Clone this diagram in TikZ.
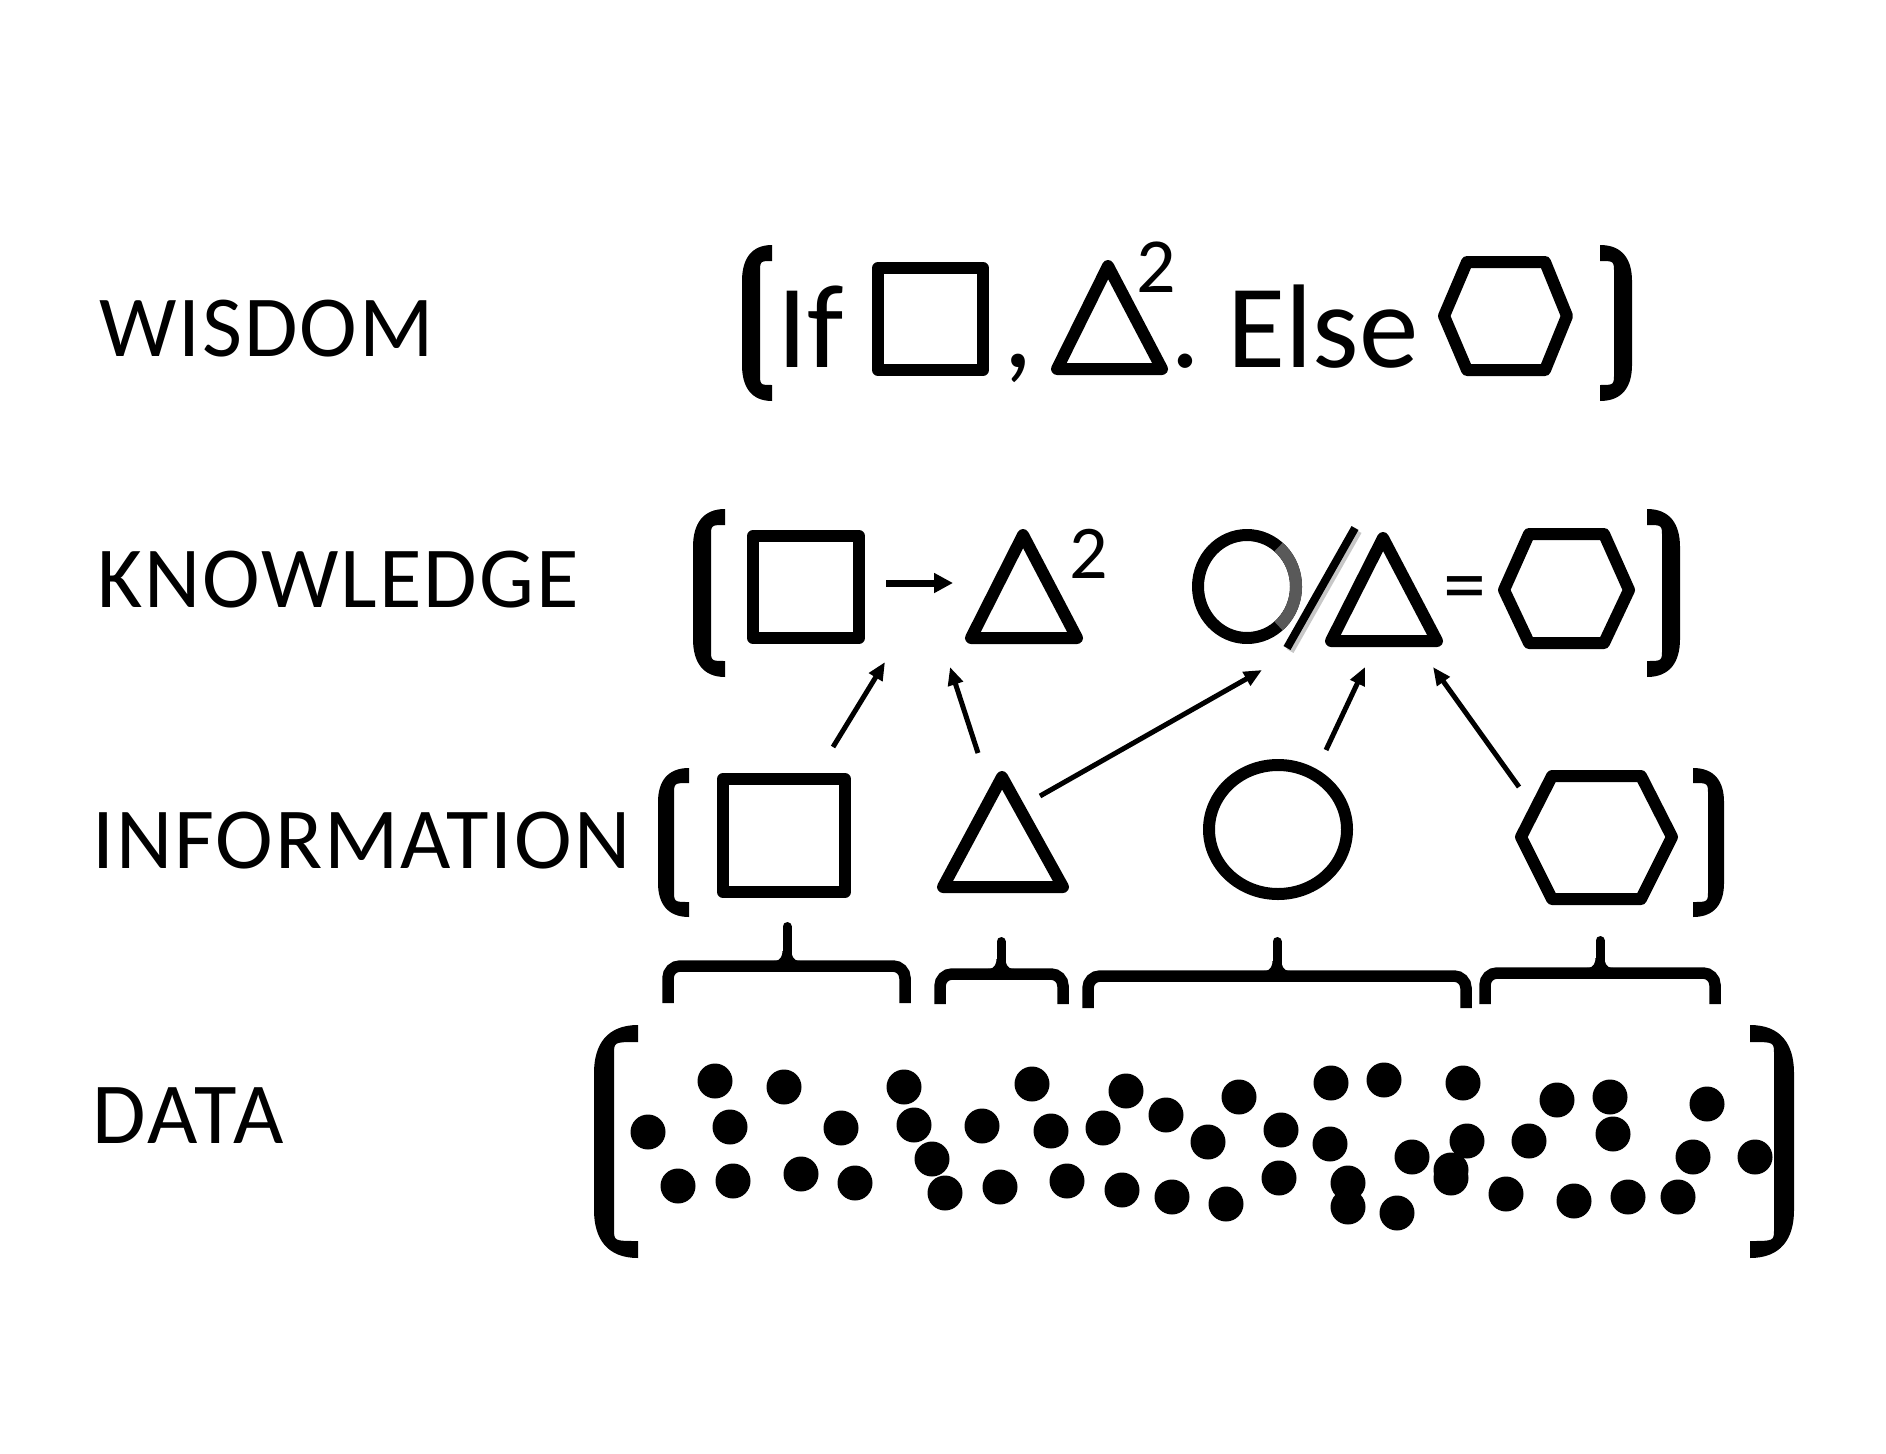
\documentclass[tikz,border=0pt]{standalone}
\usepackage{fontspec}
\setmainfont{Carlito}
\newfontfamily\lblfont[LetterSpace=2.3]{Carlito}
\newfontfamily\lbldfont[LetterSpace=3.6]{Carlito}
\usetikzlibrary{arrows.meta}
\newcommand\mybrace[6]{%
  \draw[brc] (#1,#4) -- (#1,#3) -- (#2,#3) -- (#2,#4);
  \draw[line width=9pt,line cap=round] (#5,#3) -- (#5,#6);
  \fill (#5,#3) ++(-13,-5) .. controls +(7,0) and +(0,4) .. ++(8.5,-10) -- ++(9,0) .. controls +(0,4) and +(-7,0) .. ++(8.5,10) -- cycle;
}
% bracket: #1 outer x, #2 end x, #3 top y, #4 bottom y, #5 bar thickness, #6 end thickness, #7 curve depth
\newcommand\mybrk[7]{%
  \pgfmathsetmacro\bxo{#1}\pgfmathsetmacro\bxe{#2}%
  \pgfmathsetmacro\bxi{#1+(#2-#1)/abs(#2-#1)*#5}%
  \pgfmathsetmacro\bxa{#1+(#2-#1)*0.3}%
  \pgfmathsetmacro\bxb{#1+(#2-#1)/abs(#2-#1)*(#5+4)}%
  \pgfmathsetmacro\byt{#3}\pgfmathsetmacro\byb{#4}%
  \pgfmathsetmacro\bytc{#3+#7}\pgfmathsetmacro\bybc{#4-#7}%
  \pgfmathsetmacro\byta{#3+#7*0.4}\pgfmathsetmacro\bybа{0}%
  \pgfmathsetmacro\bybq{#4-#7*0.4}%
  \pgfmathsetmacro\byte{#3+#6}\pgfmathsetmacro\bybe{#4-#6}%
  \pgfmathsetmacro\bytf{#3+#6+12}\pgfmathsetmacro\bybf{#4-#6-12}%
  \fill (\bxe,\byt) .. controls (\bxa,\byt) and (\bxo,\byta) .. (\bxo,\bytc)
     -- (\bxo,\bybc) .. controls (\bxo,\bybq) and (\bxa,\byb) .. (\bxe,\byb)
     -- (\bxe,\bybe) .. controls (\bxi,\bybe) .. (\bxi,\bybf)
     -- (\bxi,\bytf) .. controls (\bxi,\byte) .. (\bxe,\byte) -- cycle;
}
\begin{document}
\begin{tikzpicture}[x=1pt,y=-1pt,
  shp/.style={draw=black,line width=12pt,line join=round},
  brc/.style={draw=black,line width=11.5pt,rounded corners=12pt},
  lbl/.style={anchor=base west,inner sep=0pt,font=\lblfont\fontsize{87}{87}\selectfont},
  big/.style={anchor=base west,inner sep=0pt,font=\fontsize{119}{119}\selectfont},
  supr/.style={anchor=base west,inner sep=0pt,font=\fontsize{78}{78}\selectfont},
  arr/.style={line width=5pt,-{Triangle[length=18pt,width=15pt]}},
  dotc/.style={fill=black}
]
\fill[white] (0,0) rectangle (1886,1453);
\useasboundingbox (0,0) rectangle (1886,1453);

% labels
\node[lbl] (wis) at (99,356) {WISDOM};
\node[lbl] (kno) at (97,607) {KNOWLEDGE};
\node[lbl] (inf) at (92,868) {INFORMATION};
\node[lbl,font=\lbldfont\fontsize{87}{87}\selectfont] (dat) at (92,1143) {DATA};

% brackets
\mybrk{742}{772}{245}{401}{18}{16}{36}
\mybrk{1632}{1600}{245}{401}{18}{16}{36}
\mybrk{693}{725}{509}{677}{18}{16}{38}
\mybrk{1680}{1647}{509}{677}{18}{16}{38}
\mybrk{658}{689}{768}{917}{16}{15}{34}
\mybrk{1724}{1693}{768}{917}{16}{15}{34}
\mybrk{594}{638}{1025}{1258}{20}{17}{48}
\mybrk{1794}{1750}{1025}{1258}{20}{17}{48}

% wisdom row
\node[big] (wif) at (777,367) {If};
\draw[shp] (878,268) rectangle (983,370);
\node[big] (wcomma) at (1003,367) {,};
\draw[shp] (1108,266) -- (1162,369) -- (1057,369) -- cycle;
\node[supr] (wtwo) at (1136,292) {2};
\node[big] (wdot) at (1170,367) {.};
\node[big] (welse) at (1227,367) {Else};
\draw[shp] (1444,316) -- (1467,262) -- (1545,262) -- (1567,316) -- (1545,370) -- (1467,370) -- cycle;

% knowledge row
\draw[shp] (753,536) rectangle (859,638);
\coordinate (ka) at (886,583);
\coordinate (kb) at (953,583);
\draw[line width=7pt,-{Triangle[length=19pt,width=19pt]}] (ka) -- (kb);
\draw[shp] (1023,535) -- (1077,638) -- (971,638) -- cycle;
\node[supr,font=\fontsize{76}{76}\selectfont] (ktwo) at (1069,578) {2};
\draw[shp] (1247,586.5) ellipse [x radius=49pt, y radius=51.5pt];
\draw[line width=12pt,black!65] (1247,586.5) ++(-50:49pt and 51.5pt) arc[start angle=-50,end angle=50,x radius=49pt,y radius=51.5pt];
\draw[line width=8pt,black!22] (1290,651) -- (1358,531);
\draw[line width=8pt] (1287,648) -- (1355,528);
\draw[shp] (1383,538) -- (1437,641) -- (1331,641) -- cycle;
\node[anchor=base,inner sep=0pt,font=\fontsize{86}{86}\selectfont] (keq) at (1464.5,613) {=};
\draw[shp] (1504,590) -- (1529,534) -- (1604,534) -- (1629,590) -- (1604,643) -- (1529,643) -- cycle;

% information row
\draw[shp] (723,779) rectangle (845,892);
\draw[shp] (1002,777) -- (1063,887) -- (943,887) -- cycle;
\draw[shp] (1278,829.5) ellipse [x radius=69pt, y radius=64.5pt];
\draw[shp] (1521,837) -- (1552,776) -- (1641,776) -- (1672,837) -- (1641,899) -- (1552,899) -- cycle;

% arrows information -> knowledge
\coordinate (a1s) at (833,747);  \coordinate (a1e) at (885,662);
\coordinate (a2s) at (978,753);  \coordinate (a2e) at (950,667);
\coordinate (a3s) at (1040,796); \coordinate (a3e) at (1262,670);
\coordinate (a4s) at (1326,750); \coordinate (a4e) at (1365,667);
\coordinate (a5s) at (1519,787); \coordinate (a5e) at (1433,667);
\draw[arr] (a1s) -- (a1e);
\draw[arr] (a2s) -- (a2e);
\draw[arr] (a3s) -- (a3e);
\draw[arr] (a4s) -- (a4e);
\draw[arr] (a5s) -- (a5e);

% braces
\mybrace{668}{905}{966}{1003}{787}{926.5}
\mybrace{940}{1063}{974}{1004}{1001}{941.5}
\mybrace{1088}{1466}{976}{1008}{1277}{941.5}
\mybrace{1485}{1715}{973}{1004}{1600}{940.5}

% data dots
\foreach \px/\py in {715/1081,784/1087,904/1087,648/1132,730/1127,841/1128,914/1125,982/1126,932/1159,678/1186,733/1181,801/1174,855/1183,945/1193,1000/1187,
1032/1084,1126/1091,1239/1097,1331/1083,1384/1080,1051/1131,1103/1128,1166/1115,1208/1142,1281/1130,1330/1144,1067/1181,1122/1190,1172/1197,1226/1204,1279/1178,1348/1183,1348/1207,1397/1213,
1463/1083,1557/1100,1610/1097,1707/1104,1412/1157,1467/1141,1451/1170,1451/1178,1529/1141,1613/1134,1693/1157,1755/1157,1506/1194,1574/1201,1628/1197,1678/1197}
  \fill[dotc] (\px,\py) circle[radius=17.5pt];
\end{tikzpicture}
\end{document}
